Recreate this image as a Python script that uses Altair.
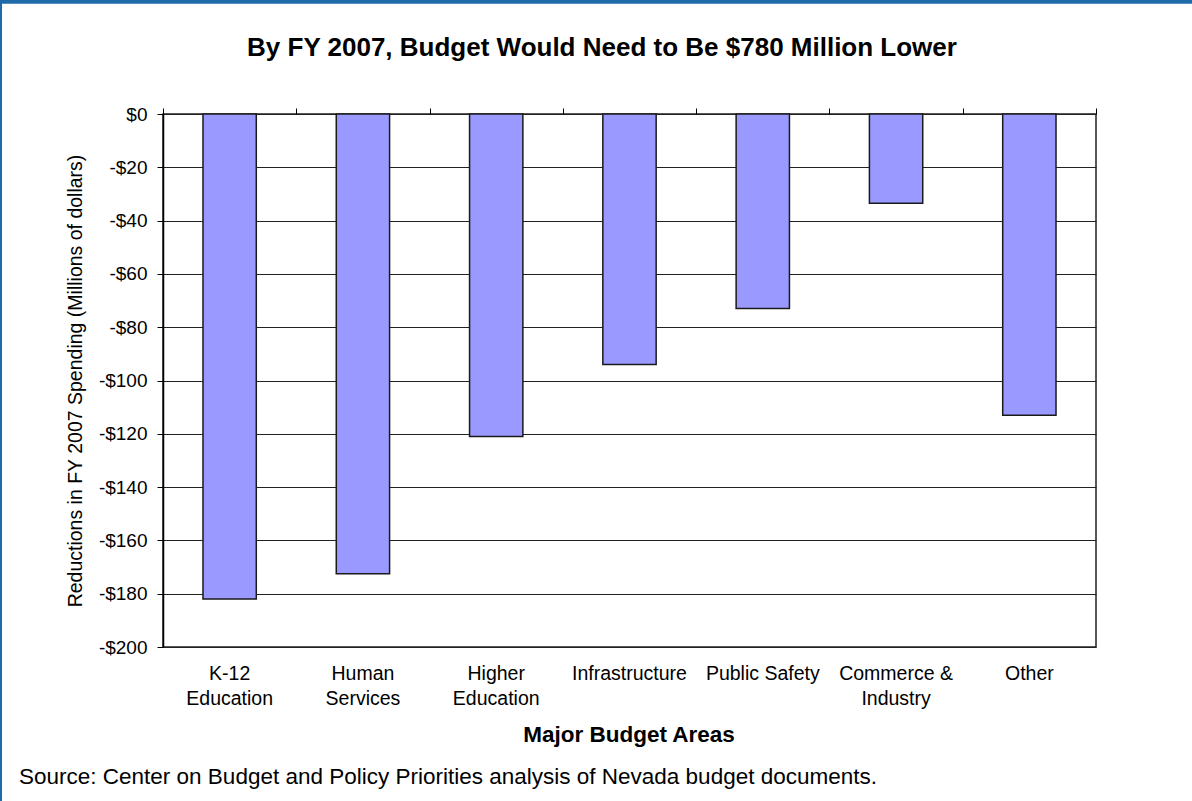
import altair as alt
import pandas as pd

# ---- data ----
categories = ["K-12 Education", "Human Services", "Higher Education", "Infrastructure",
              "Public Safety", "Commerce & Industry", "Other"]
label_text = ["K-12\nEducation", "Human\nServices", "Higher\nEducation", "Infrastructure",
              "Public Safety", "Commerce &\nIndustry", "Other"]
reductions = [-182, -172.5, -121, -94, -73, -33.5, -113]
y_ticks = [0, -20, -40, -60, -80, -100, -120, -140, -160, -180, -200]

title_text = "By FY 2007, Budget Would Need to Be $780 Million Lower"
x_title = "Major Budget Areas"
y_title = "Reductions in FY 2007 Spending (Millions of dollars)"
source_text = "Source: Center on Budget and Policy Priorities analysis of Nevada budget documents."

FONT = "Liberation Sans"
W, H = 933, 533
LEFT, TOP = 163, 114
TOTAL_W, TOTAL_H = 1192, 801
BLUE = "#1F6BAA"

df = pd.DataFrame({"category": categories, "value": reductions, "label": label_text})

x_enc = alt.X(
    "category:N", sort=categories,
    scale=alt.Scale(paddingInner=0, paddingOuter=0),
    axis=alt.Axis(orient="top", labels=False, title=None, domain=False, ticks=True,
                  tickBand="extent", tickSize=6, tickColor="#000", tickWidth=1, grid=False),
)
y_enc = alt.Y(
    "value:Q",
    scale=alt.Scale(domain=[-200, 0], nice=False),
    axis=alt.Axis(values=y_ticks,
                  labelExpr="datum.value < 0 ? '-$' + abs(datum.value) : '$' + datum.value",
                  grid=True, gridColor="#222", gridWidth=1,
                  tickColor="#000", tickSize=6, domainColor="#000", domainWidth=1.5,
                  labelPadding=10, labelFontSize=19, labelFont=FONT, labelColor="#000",
                  title=y_title, titleFont=FONT, titleFontSize=19.5, titleFontWeight="normal",
                  titleColor="#000", titleX=-88, titleY=H / 2, titleAngle=270,
                  titleBaseline="middle", titleAlign="center"),
)

bars = alt.Chart(df).mark_bar(
    width=alt.RelativeBandSize(0.4), fill="#9999FF", stroke="#1a1a1a", strokeWidth=1.5
).encode(x=x_enc, y=y_enc)

cat_labels = alt.Chart(df).mark_text(
    lineBreak="\n", lineHeight=25, fontSize=19.5, font=FONT, color="#000",
    baseline="alphabetic", align="center"
).encode(x=alt.X("category:N", sort=categories), y=alt.value(680 - TOP), text="label:N")

def text_layer(txt, x, y, size, weight="normal", align="center"):
    return alt.Chart(pd.DataFrame({"t": [txt]})).mark_text(
        fontSize=size, fontWeight=weight, font=FONT, color="#000",
        baseline="middle", align=align
    ).encode(x=alt.value(x), y=alt.value(y), text="t:N")

title_layer = text_layer(title_text, 602 - LEFT, 48 - TOP, 26, "bold")
xtitle_layer = text_layer(x_title, 629 - LEFT, 735 - TOP, 22.5, "bold")
source_layer = text_layer(source_text, 19 - LEFT, 777 - TOP, 22.5, "normal", "left")

top_band = alt.Chart(pd.DataFrame({"k": [0]})).mark_rule(color=BLUE, strokeWidth=4).encode(
    x=alt.value(-LEFT), x2=alt.value(TOTAL_W - LEFT), y=alt.value(1.8 - TOP))
left_band = alt.Chart(pd.DataFrame({"k": [0]})).mark_rule(color=BLUE, strokeWidth=2).encode(
    x=alt.value(1 - LEFT), y=alt.value(-TOP), y2=alt.value(TOTAL_H - TOP))

chart = alt.layer(
    bars, cat_labels, title_layer, xtitle_layer, source_layer, top_band, left_band
).properties(
    width=W, height=H,
    padding={"left": LEFT, "top": TOP, "right": TOTAL_W - LEFT - W, "bottom": TOTAL_H - TOP - H},
    autosize=alt.AutoSizeParams(type="none"),
    background="white",
).configure_view(stroke="#222", strokeWidth=1.5)

chart.save("out.html", embed_options={"renderer": "svg", "actions": False})
